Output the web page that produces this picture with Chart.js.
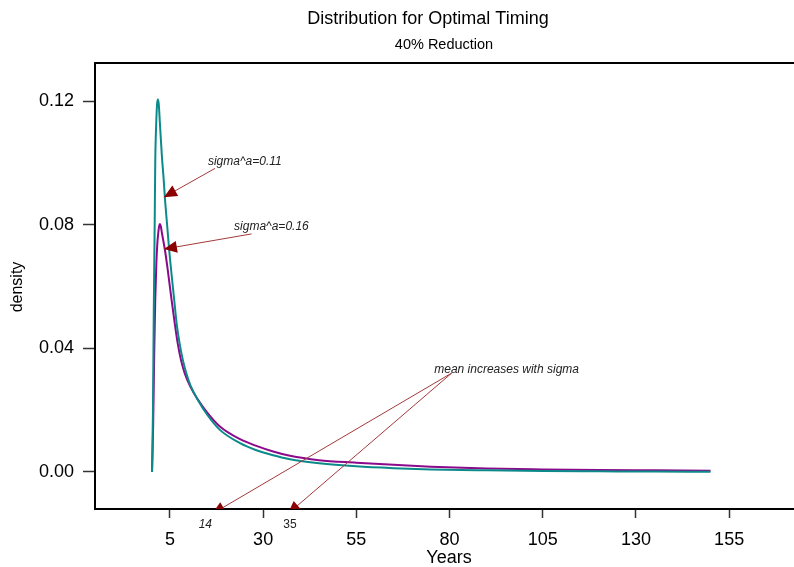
<!DOCTYPE html>
<html>
<head>
<meta charset="utf-8">
<script src="https://cdn.jsdelivr.net/npm/chart.js@4"></script>
<style>
  body { margin: 0; background: #fff; }
  #wrap { width: 794px; height: 567px; }
</style>
</head>
<body>
<div id="wrap"><canvas id="timingChart" width="794" height="567"></canvas></div>
<script>
// curva sigma^a = 0.11 (verde azulado)
const tealX = [0.2, 0.45, 0.65, 0.9, 1.06, 1.33, 1.55, 1.78, 2.0, 2.3, 2.85, 3.3, 3.75, 4.8, 6.15, 6.8, 7.6, 8.5, 9.5, 10.5, 12.5, 15, 18.4, 23.8, 28, 32.7, 37.2, 45, 55, 65, 75, 90, 105, 120, 135, 150];
const tealY = [0, 0.02, 0.05, 0.079, 0.1, 0.113, 0.119, 0.1205, 0.119, 0.113, 0.102, 0.095, 0.087, 0.0718, 0.0556, 0.048, 0.0415, 0.036, 0.0315, 0.028, 0.0233, 0.0185, 0.0136, 0.0093, 0.0071, 0.0054, 0.0041, 0.0028, 0.0018, 0.0012, 0.0008, 0.0005, 0.0003, 0.0002, 0.0001, 0.00005];

// curva sigma^a = 0.16 (morado)
const purpleX = [0.2, 0.5, 0.8, 1.06, 1.33, 1.6, 1.87, 2.1, 2.32, 2.55, 2.85, 3.66, 4.3, 5.45, 6.3, 7.1, 8, 9, 10.5, 12.5, 15, 18.4, 23.8, 28, 32.7, 37.2, 45, 55, 65, 75, 90, 105, 120, 135, 150];
const purpleY = [0, 0.015, 0.0394, 0.0556, 0.0664, 0.0735, 0.0773, 0.0795, 0.0802, 0.0795, 0.0773, 0.0718, 0.0664, 0.0556, 0.048, 0.0415, 0.036, 0.0318, 0.0275, 0.0234, 0.0192, 0.0147, 0.0106, 0.0085, 0.0066, 0.0052, 0.0038, 0.003, 0.0023, 0.0017, 0.0011, 0.0008, 0.0006, 0.0005, 0.0004];

const xTicks = [5, 30, 55, 80, 105, 130, 155];
const yTicks = [0, 0.04, 0.08, 0.12];

// flechas: [x inicio, y inicio, x punta, y punta]
const flechas = [
  [17.1, 0.0982, 3.39, 0.0889],
  [26.9, 0.077, 3.39, 0.0721],
  [80.6, 0.032, 16.3, -0.0136],
  [80.6, 0.032, 36.6, -0.0136],
];
const notas = [
  { texto: "sigma^a=0.11", x: 15.2, y: 0.0993 },
  { texto: "sigma^a=0.16", x: 22.2, y: 0.0783 },
  { texto: "mean increases with sigma", x: 75.9, y: 0.032 },
];
const medias = [
  { texto: "14", x: 14.5, italic: true },
  { texto: "35", x: 37.2, italic: false },
];

const toPoints = (xs, ys) => xs.map((x, i) => ({ x: x, y: ys[i] }));

const FONT = "'Liberation Sans', Arial, sans-serif";

const extras = {
  id: "extras",
  afterDraw(chart) {
    const ctx = chart.ctx;
    const area = chart.chartArea;
    const sx = chart.scales.x;
    const sy = chart.scales.y;
    ctx.save();

    // borde superior del recuadro
    ctx.strokeStyle = "#000";
    ctx.lineWidth = 2;
    ctx.beginPath();
    ctx.moveTo(area.left, area.top);
    ctx.lineTo(area.right, area.top);
    ctx.stroke();

    // titulos
    ctx.fillStyle = "#000";
    ctx.textAlign = "center";
    ctx.textBaseline = "middle";
    ctx.font = "18px " + FONT;
    ctx.fillText("Distribution for Optimal Timing", 428, 19);
    ctx.font = "14.5px " + FONT;
    ctx.fillText("40% Reduction", 444, 45);
    ctx.font = "18px " + FONT;
    ctx.fillText("Years", 449, 558);
    ctx.save();
    ctx.translate(18, 287);
    ctx.rotate(-Math.PI / 2);
    ctx.font = "16px " + FONT;
    ctx.fillText("density", 0, 0);
    ctx.restore();

    // flechas
    ctx.save();
    ctx.beginPath();
    ctx.rect(area.left, area.top, area.right - area.left, area.bottom - area.top);
    ctx.clip();
    flechas.forEach((f) => {
      const x0 = sx.getPixelForValue(f[0]);
      const y0 = sy.getPixelForValue(f[1]);
      const x1 = sx.getPixelForValue(f[2]);
      const y1 = sy.getPixelForValue(f[3]);
      const ang = Math.atan2(y1 - y0, x1 - x0);
      ctx.strokeStyle = "#a33a3a";
      ctx.lineWidth = 1;
      ctx.beginPath();
      ctx.moveTo(x0, y0);
      ctx.lineTo(x1, y1);
      ctx.stroke();
      const largo = 13, ancho = 6;
      ctx.fillStyle = "#8b0000";
      ctx.beginPath();
      ctx.moveTo(x1, y1);
      ctx.lineTo(x1 - largo * Math.cos(ang) + ancho * Math.sin(ang), y1 - largo * Math.sin(ang) - ancho * Math.cos(ang));
      ctx.lineTo(x1 - largo * Math.cos(ang) - ancho * Math.sin(ang), y1 - largo * Math.sin(ang) + ancho * Math.cos(ang));
      ctx.closePath();
      ctx.fill();
    });
    ctx.restore();

    // textos de las flechas
    ctx.fillStyle = "#222";
    ctx.textAlign = "left";
    ctx.textBaseline = "alphabetic";
    ctx.font = "italic 12px " + FONT;
    notas.forEach((n) => {
      ctx.fillText(n.texto, sx.getPixelForValue(n.x), sy.getPixelForValue(n.y));
    });

    // medias bajo el eje
    ctx.textAlign = "center";
    ctx.textBaseline = "middle";
    medias.forEach((m) => {
      ctx.font = (m.italic ? "italic " : "") + "12px " + FONT;
      ctx.fillText(m.texto, sx.getPixelForValue(m.x), area.bottom + 16);
    });
    ctx.restore();
  },
};

document.addEventListener("DOMContentLoaded", function () {
  const ctx = document.getElementById("timingChart").getContext("2d");

  new Chart(ctx, {
    type: "scatter",
    data: {
      datasets: [
        {
          label: "sigma^a=0.11",
          data: toPoints(tealX, tealY),
          showLine: true,
          borderColor: "#0b8a8a",
          borderWidth: 2,
          pointRadius: 0,
          cubicInterpolationMode: "monotone",
        },
        {
          label: "sigma^a=0.16",
          data: toPoints(purpleX, purpleY),
          showLine: true,
          borderColor: "#8b0a8b",
          borderWidth: 2,
          pointRadius: 0,
          cubicInterpolationMode: "monotone",
        },
      ],
    },
    options: {
      responsive: false,
      animation: false,
      layout: { padding: { top: 63, right: 0, left: 0, bottom: 0 } },
      plugins: {
        legend: { display: false },
        tooltip: { enabled: false },
      },
      scales: {
        x: {
          type: "linear",
          min: -15.1,
          max: 172.4,
          afterFit: (s) => { s.height = 58; },
          afterBuildTicks: (s) => { s.ticks = xTicks.map((v) => ({ value: v })); },
          grid: { drawOnChartArea: false, drawTicks: true, tickLength: 9, tickColor: "#333", tickWidth: 1.5 },
          border: { display: true, color: "#000", width: 2 },
          ticks: {
            color: "#000",
            padding: 11,
            maxRotation: 0,
            autoSkip: false,
            font: { size: 18, family: FONT },
          },
        },
        y: {
          min: -0.012,
          max: 0.1323,
          afterFit: (s) => { s.width = 95; },
          afterBuildTicks: (s) => { s.ticks = yTicks.map((v) => ({ value: v })); },
          grid: { drawOnChartArea: false, drawTicks: true, tickLength: 12, tickColor: "#333", tickWidth: 1.5 },
          border: { display: true, color: "#000", width: 2 },
          ticks: {
            color: "#000",
            padding: 9,
            autoSkip: false,
            font: { size: 18, family: FONT },
            callback: (v) => v.toFixed(2),
          },
        },
      },
    },
    plugins: [extras],
  });
});
</script>
</body>
</html>
